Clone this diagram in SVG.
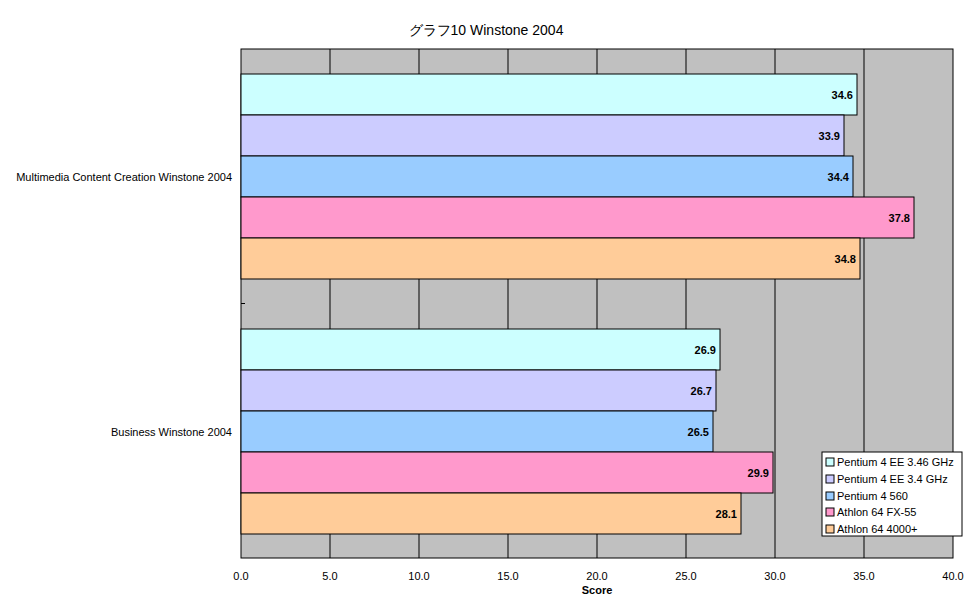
<svg xmlns="http://www.w3.org/2000/svg" width="972" height="604" viewBox="0 0 972 604">
<style>
text{font-family:"Liberation Sans",Arial,sans-serif;fill:#000}
.t{font-size:11px}
.v{font-size:11px;font-weight:bold;text-anchor:end}
.g{stroke:#000;stroke-width:1}
.b{stroke:#000;stroke-width:1}
.ax{font-size:11px;text-anchor:middle}
</style>
<rect width="972" height="604" fill="#fff"/>
<text x="486" y="35" font-size="14" text-anchor="middle" font-family="'Noto Sans CJK JP',sans-serif">グラフ10  Winstone 2004</text>
<g id="plot">
<rect x="241" y="49" width="712" height="509" fill="#C0C0C0" stroke="#000"/>
<g class="g">
<line x1="330" y1="49" x2="330" y2="558"/><line x1="419" y1="49" x2="419" y2="558"/>
<line x1="508" y1="49" x2="508" y2="558"/><line x1="597" y1="49" x2="597" y2="558"/>
<line x1="686" y1="49" x2="686" y2="558"/><line x1="775" y1="49" x2="775" y2="558"/>
<line x1="864" y1="49" x2="864" y2="558"/>
<line x1="241" y1="303.5" x2="245" y2="303.5"/>
</g>
</g>
<g id="connectors"></g>
<g id="bars" class="b">
<rect x="241" y="74" width="616" height="41" fill="#CCFFFF" stroke="#000"/>
<rect x="241" y="115" width="603" height="41" fill="#CCCCFF" stroke="#000"/>
<rect x="241" y="156" width="612" height="41" fill="#99CCFF" stroke="#000"/>
<rect x="241" y="197" width="673" height="41" fill="#FF99CC" stroke="#000"/>
<rect x="241" y="238" width="619" height="41" fill="#FFCC99" stroke="#000"/>
<rect x="241" y="329" width="479" height="41" fill="#CCFFFF" stroke="#000"/>
<rect x="241" y="370" width="475" height="41" fill="#CCCCFF" stroke="#000"/>
<rect x="241" y="411" width="472" height="41" fill="#99CCFF" stroke="#000"/>
<rect x="241" y="452" width="532" height="41" fill="#FF99CC" stroke="#000"/>
<rect x="241" y="493" width="500" height="41" fill="#FFCC99" stroke="#000"/>
</g>
<g id="values">
<text class="v" x="853" y="99">34.6</text>
<text class="v" x="840" y="140">33.9</text>
<text class="v" x="849" y="181">34.4</text>
<text class="v" x="910" y="222">37.8</text>
<text class="v" x="856" y="263">34.8</text>
<text class="v" x="716" y="354">26.9</text>
<text class="v" x="712" y="395">26.7</text>
<text class="v" x="709" y="436">26.5</text>
<text class="v" x="769" y="477">29.9</text>
<text class="v" x="737" y="518">28.1</text>
</g>
<g id="categories">
<text class="t" x="232" y="181" text-anchor="end">Multimedia Content Creation Winstone 2004</text>
<text class="t" x="232" y="436" text-anchor="end">Business Winstone 2004</text>
</g>
<g id="xaxis">
<text class="ax" x="241" y="580">0.0</text><text class="ax" x="330" y="580">5.0</text>
<text class="ax" x="419" y="580">10.0</text><text class="ax" x="508" y="580">15.0</text>
<text class="ax" x="597" y="580">20.0</text><text class="ax" x="686" y="580">25.0</text>
<text class="ax" x="775" y="580">30.0</text><text class="ax" x="864" y="580">35.0</text>
<text class="ax" x="953" y="580">40.0</text>
<text class="ax" x="597" y="594" font-weight="bold">Score</text>
</g>
<g id="legend">
<rect x="822" y="452" width="140" height="84" fill="#fff" stroke="#000"/>
<rect x="826" y="458" width="8" height="8" fill="#CCFFFF" stroke="#000"/>
<rect x="826" y="475" width="8" height="8" fill="#CCCCFF" stroke="#000"/>
<rect x="826" y="492" width="8" height="8" fill="#99CCFF" stroke="#000"/>
<rect x="826" y="508" width="8" height="8" fill="#FF99CC" stroke="#000"/>
<rect x="826" y="525" width="8" height="8" fill="#FFCC99" stroke="#000"/>
<text class="t" x="837" y="466">Pentium 4 EE 3.46 GHz</text>
<text class="t" x="837" y="483">Pentium 4 EE 3.4 GHz</text>
<text class="t" x="837" y="500">Pentium 4 560</text>
<text class="t" x="837" y="516">Athlon 64 FX-55</text>
<text class="t" x="837" y="533">Athlon 64 4000+</text>
</g>
</svg>
